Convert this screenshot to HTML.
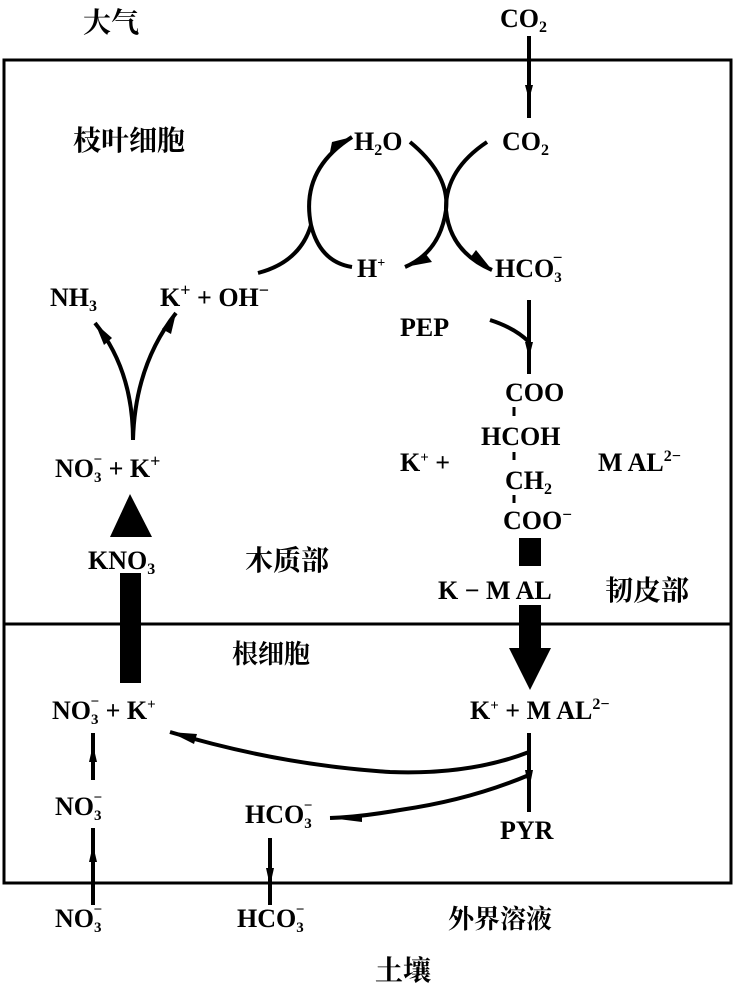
<!DOCTYPE html>
<html><head><meta charset="utf-8"><style>
html,body{margin:0;padding:0;background:#fff;}
svg{display:block;}
text{font-family:"Liberation Serif","Noto Serif CJK SC",serif;font-weight:bold;fill:#000;}
.c{font-family:"Liberation Serif","Noto Serif CJK SC",serif;font-weight:bold;}
</style></head><body>
<svg width="735" height="983" viewBox="0 0 735 983" xmlns="http://www.w3.org/2000/svg">
<g fill="none" stroke="#000" stroke-width="4">
<rect x="4" y="60" width="727" height="823" stroke-width="3"/>
<line x1="4" y1="624" x2="731" y2="624" stroke-width="3"/>
<line x1="529" y1="36" x2="529" y2="118"/>
<path d="M352,137 Q300,170 311,225 Q320,262 352,267"/>
<path d="M258,273 Q300,262 311,225"/>
<path d="M410,142 Q450,175 446,210 Q440,252 405,267"/>
<path d="M487,142 Q445,170 446,210 Q450,252 492,270"/>
<line x1="529" y1="300" x2="529" y2="374"/>
<path d="M490,320 Q515,328 529,342"/>
<line x1="514" y1="407" x2="514" y2="416" stroke-width="3"/>
<line x1="514" y1="452" x2="514" y2="460" stroke-width="3"/>
<line x1="514" y1="495" x2="514" y2="503" stroke-width="3"/>
<path d="M133,440 Q133,370 95,323"/>
<path d="M133,440 Q135,365 176,313"/>
<line x1="529" y1="733" x2="529" y2="812"/>
<path d="M529,752 Q470,775 390,772 Q280,765 170,732"/>
<path d="M529,775 Q470,800 400,810 Q360,817 330,818"/>
<line x1="93" y1="733" x2="93" y2="780"/>
<line x1="93" y1="828" x2="93" y2="905"/>
<line x1="270" y1="838" x2="270" y2="905"/>
</g>
<g fill="#000">
<path d="M525,85 L533,85 L529,100 z"/>
<path d="M352,137 L332,142 L330,152 z"/>
<path d="M405,267 L425,253 L432,262 z"/>
<path d="M492,270 L470,258 L476,250 z"/>
<path d="M525,342 L533,342 L529,358 z"/>
<path d="M95,323 L112,338 L104,345 z"/>
<path d="M176,313 L171,334 L162,329 z"/>
<path d="M170,732 L197,734 L194,744 z"/>
<path d="M330,818 L362,814 L362,822 z"/>
<path d="M89,762 L97,762 L93,745 z"/>
<path d="M89,862 L97,862 L93,845 z"/>
<path d="M266,868 L274,868 L270,886 z"/>
<path d="M525,770 L533,770 L529,790 z"/>
<path d="M130,494 L152,537 L110,537 z"/>
<rect x="120" y="573" width="21" height="110"/>
<rect x="519" y="538" width="22" height="28"/>
<rect x="519" y="605" width="22" height="48"/>
<path d="M509,648 L551,648 L530,690 z"/>
</g>
<g font-size="26">
<text class="c" x="83" y="32" font-size="28">大气</text>
<text x="500" y="27">CO<tspan font-size="16" dy="5">2</tspan></text>
<text class="c" x="73" y="150" font-size="28">枝叶细胞</text>
<text x="354" y="150">H<tspan font-size="16" dy="5">2</tspan><tspan dy="-5">O</tspan></text>
<text x="502" y="150">CO<tspan font-size="16" dy="5">2</tspan></text>
<text x="357" y="277">H<tspan font-size="14" dy="-10">+</tspan></text>
<text x="495" y="277">HCO<tspan font-size="15" dy="5">3</tspan><tspan font-size="17" dx="-9" dy="-19">−</tspan></text>
<text x="50" y="306">NH<tspan font-size="16" dy="5">3</tspan></text>
<text x="160" y="306">K<tspan font-size="18" dy="-10">+</tspan><tspan dy="10"> + OH</tspan><tspan font-size="18" dy="-10">−</tspan></text>
<text x="400" y="336">PEP</text>
<text x="505" y="401">COO</text>
<text x="481" y="445">HCOH</text>
<text x="400" y="471">K<tspan font-size="15" dy="-9">+</tspan><tspan dy="9"> +</tspan></text>
<text x="505" y="489">CH<tspan font-size="16" dy="5">2</tspan></text>
<text x="598" y="471">M AL<tspan font-size="16" dy="-10">2−</tspan></text>
<text x="503" y="529">COO<tspan font-size="17" dy="-9">−</tspan></text>
<text x="55" y="477">NO<tspan font-size="15" dy="5">3</tspan><tspan font-size="15" dx="-8" dy="-18">−</tspan><tspan dy="13"> + K</tspan><tspan font-size="18" dy="-10">+</tspan></text>
<text x="88" y="569">KNO<tspan font-size="16" dy="5">3</tspan></text>
<text class="c" x="245" y="570" font-size="28">木质部</text>
<text x="438" y="599">K − M AL</text>
<text class="c" x="605" y="600" font-size="28">韧皮部</text>
<text class="c" x="232" y="663" font-size="26">根细胞</text>
<text x="52" y="719">NO<tspan font-size="15" dy="5">3</tspan><tspan font-size="15" dx="-8" dy="-18">−</tspan><tspan dy="13"> + K</tspan><tspan font-size="15" dy="-10">+</tspan></text>
<text x="470" y="719">K<tspan font-size="15" dy="-9">+</tspan><tspan dy="9"> + M AL</tspan><tspan font-size="16" dy="-10">2−</tspan></text>
<text x="55" y="815">NO<tspan font-size="15" dy="5">3</tspan><tspan font-size="15" dx="-8" dy="-18">−</tspan></text>
<text x="245" y="823">HCO<tspan font-size="15" dy="5">3</tspan><tspan font-size="15" dx="-8" dy="-18">−</tspan></text>
<text x="500" y="839">PYR</text>
<text x="55" y="927">NO<tspan font-size="15" dy="5">3</tspan><tspan font-size="15" dx="-8" dy="-18">−</tspan></text>
<text x="237" y="927">HCO<tspan font-size="15" dy="5">3</tspan><tspan font-size="15" dx="-8" dy="-18">−</tspan></text>
<text class="c" x="448" y="928" font-size="26">外界溶液</text>
<text class="c" x="375" y="980" font-size="28">土壤</text>
</g>
</svg>
</body></html>
